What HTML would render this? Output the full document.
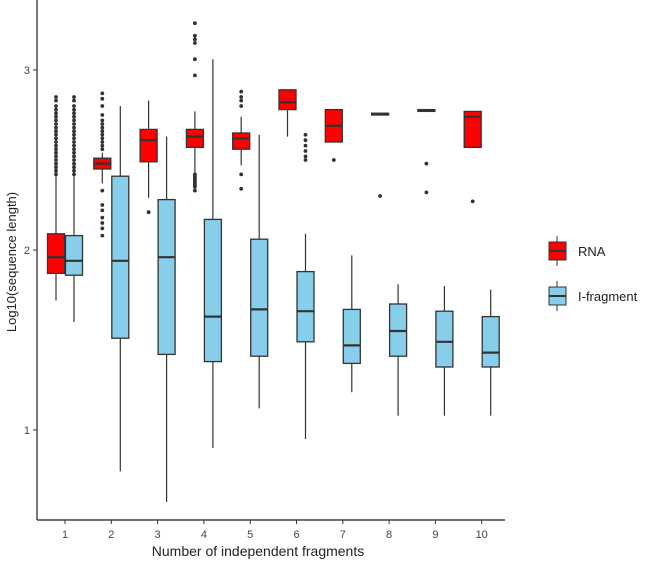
<!DOCTYPE html>
<html><head><meta charset="utf-8"><style>
body{margin:0;background:#fff}
svg text{font-family:"Liberation Sans",sans-serif;}
</style></head><body>
<svg id="chart" width="647" height="565">
<g id="marks"></g>
<line x1="37" y1="0" x2="37" y2="520" stroke="#222" stroke-width="1.2"/>
<line x1="37" y1="520" x2="505" y2="520" stroke="#222" stroke-width="1.2"/>
<g id="axes"></g>
<text x="258" y="556" text-anchor="middle" font-size="14" fill="#222">Number of independent fragments</text>
<text transform="translate(16,262) rotate(-90)" text-anchor="middle" font-size="13" fill="#222">Log10(sequence length)</text>
<g>
<g>
<line x1="557" y1="236" x2="557" y2="266" stroke="#333"/>
<rect x="549" y="242" width="17" height="18" fill="#ff0000" stroke="#333"/>
<line x1="549" y1="251" x2="566" y2="251" stroke="#333" stroke-width="2"/>
<text x="578" y="256" font-size="13" fill="#222">RNA</text></g>
<g>
<line x1="557" y1="281" x2="557" y2="311" stroke="#333"/>
<rect x="549" y="287" width="17" height="18" fill="#87ceeb" stroke="#333"/>
<line x1="549" y1="296" x2="566" y2="296" stroke="#333" stroke-width="2"/>
<text x="578" y="301" font-size="13" fill="#222">I-fragment</text></g>
</g>
</svg>
<script>
const categories=[1,2,3,4,5,6,7,8,9,10];
const yTicks=[1,2,3];
// [low whisker, q1, median, q3, high whisker]
const rnaStats=[[1.72,1.87,1.96,2.09,2.42],[2.37,2.45,2.48,2.51,2.54],[2.29,2.49,2.61,2.67,2.83],[2.43,2.57,2.63,2.67,2.77],[2.47,2.56,2.62,2.65,2.74],[2.63,2.78,2.82,2.89,2.89],[2.60,2.60,2.69,2.78,2.78],[2.75,2.75,2.755,2.76,2.76],[2.77,2.77,2.775,2.78,2.78],[2.57,2.57,2.74,2.77,2.77]];
const fragStats=[[1.60,1.86,1.94,2.08,2.42],[0.77,1.51,1.94,2.41,2.80],[0.60,1.42,1.96,2.28,2.63],[0.90,1.38,1.63,2.17,3.06],[1.12,1.41,1.67,2.06,2.64],[0.95,1.49,1.66,1.88,2.09],[1.21,1.37,1.47,1.67,1.97],[1.08,1.41,1.55,1.70,1.81],[1.08,1.35,1.49,1.66,1.80],[1.08,1.35,1.43,1.63,1.78]];
const dense1=[2.42,2.44,2.46,2.48,2.50,2.52,2.54,2.56,2.58,2.60,2.62,2.64,2.66,2.68,2.70,2.72,2.74,2.76,2.78,2.80,2.83,2.85];
const rnaOutliers=[dense1,[2.56,2.58,2.60,2.62,2.64,2.66,2.68,2.70,2.72,2.75,2.80,2.84,2.87,2.33,2.25,2.22,2.18,2.15,2.12,2.08],[2.21],[2.97,3.06,3.15,3.17,3.19,3.26,2.42,2.41,2.40,2.39,2.38,2.37,2.36,2.35,2.33],[2.80,2.83,2.85,2.88,2.42,2.34],[],[2.50],[2.30],[2.48,2.32],[2.27]];
const fragOutliers=[dense1,[],[],[],[],[],[],[],[],[]];
const fragExtra6=[2.50,2.52,2.55,2.58,2.61,2.64];
const X=c=>65+(c-1)*46.3;
const Y=v=>70+(3-v)*180;
const NS="http://www.w3.org/2000/svg";
const marks=document.getElementById('marks'),axes=document.getElementById('axes');
function el(t,a,p){const e=document.createElementNS(NS,t);for(const k in a)e.setAttribute(k,a[k]);p.appendChild(e);return e;}
function box(cx,s,fill,outs,name){
  const g=el('g',{},marks);
  
  
  el('line',{x1:cx,x2:cx,y1:Y(s[4]),y2:Y(s[0]),stroke:'#333','stroke-width':1.2},g);
  el('rect',{x:cx-8.5,y:Y(s[3]),width:17,height:Math.max(Y(s[1])-Y(s[3]),0.5),fill:fill,stroke:'#333','stroke-width':1.3},g);
  el('line',{x1:cx-8.5,x2:cx+8.5,y1:Y(s[2]),y2:Y(s[2]),stroke:'#333','stroke-width':2.2},g);
  outs.forEach(o=>el('circle',{cx:cx,cy:Y(o),r:1.9,fill:'#333'},g));
}
categories.forEach((c,i)=>{
  box(X(c)-9,rnaStats[i],'#ff0000',rnaOutliers[i],'rna-box-'+c);
  box(X(c)+9,fragStats[i],'#87ceeb',fragOutliers[i],'i-fragment-box-'+c);
  const t=el('text',{x:X(c),y:538,'text-anchor':'middle','font-size':11,fill:'#444'},axes);
  t.textContent=c;
  
  
  el('line',{x1:X(c),x2:X(c),y1:520,y2:524,stroke:'#333'},axes);
});
fragExtra6.forEach(o=>el('circle',{cx:X(6)+9,cy:Y(o),r:1.9,fill:'#333'},marks));
yTicks.forEach(v=>{
  el('line',{x1:33,x2:37,y1:Y(v),y2:Y(v),stroke:'#333'},axes);
  const t=el('text',{x:30,y:Y(v)+4,'text-anchor':'end','font-size':11,fill:'#444'},axes);
  t.textContent=v;
  
  
});
</script>
</body></html>
